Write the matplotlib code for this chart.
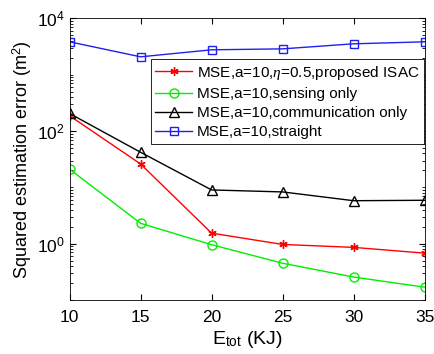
import matplotlib
matplotlib.use("Agg")
import matplotlib.pyplot as plt
import matplotlib.ticker as mticker
import numpy as np

plt.rcParams['font.family'] = ['Liberation Sans', 'DejaVu Sans']
plt.rcParams['mathtext.fontset'] = 'custom'
plt.rcParams['mathtext.rm'] = 'Liberation Sans'
plt.rcParams['mathtext.it'] = 'Liberation Serif:italic'

# x: total energy (KJ)
e_tot = [10, 15, 20, 25, 30, 35]

# squared estimation error (m^2)
mse_isac = [187, 26, 1.54, 0.97, 0.86, 0.68]
mse_sensing = [21, 2.3, 0.96, 0.45, 0.256, 0.169]
mse_comm = [205, 42, 9.0, 8.3, 5.8, 5.9]
mse_straight = [3840, 2080, 2770, 2880, 3540, 3840]

labels = [
    r"MSE,a=10,$\eta$=0.5,proposed ISAC",
    "MSE,a=10,sensing only",
    "MSE,a=10,communication only",
    "MSE,a=10,straight",
]

fig = plt.figure(figsize=(4.35, 3.54), dpi=100)
ax = fig.add_axes([0.160, 0.1525, 0.816, 0.7955])

ax.semilogy(e_tot, mse_isac, color='red', marker=(6, 2, 0), ms=6, lw=1.0,
            mew=1.0, label=labels[0])
ax.semilogy(e_tot, mse_sensing, color='#00ee00', marker='o', ms=6.5, mfc='none',
            lw=1.0, mew=1.0, label=labels[1])
ax.semilogy(e_tot, mse_comm, color='black', marker='^', ms=6.5, mfc='none',
            lw=1.0, mew=1.0, label=labels[2])
ax.semilogy(e_tot, mse_straight, color='#2020ee', marker='s', ms=5.5, mfc='none',
            lw=1.0, mew=1.0, label=labels[3])

ax.set_xlim(10, 35)
ax.set_ylim(1e-1, 1e4)
ax.set_xticks(e_tot)
ax.yaxis.set_major_locator(mticker.FixedLocator([1e0, 1e2, 1e4]))
ax.yaxis.set_major_formatter(mticker.LogFormatterMathtext())
ax.yaxis.set_minor_locator(mticker.LogLocator(base=10, subs=np.arange(1, 10), numticks=20))
ax.yaxis.set_minor_formatter(mticker.NullFormatter())

ax.tick_params(which='both', direction='in', top=True, right=True, labelsize=12.5)
ax.tick_params(axis='x', pad=7)
ax.tick_params(which='major', length=4)
ax.tick_params(which='minor', length=2)
for s in ax.spines.values():
    s.set_linewidth(0.6)

ax.set_xlabel(r"E$_{\mathrm{tot}}$ (KJ)", fontsize=14, labelpad=3)
ax.set_ylabel(r"Squared estimation error (m$^2$)", fontsize=13, labelpad=2)

leg = ax.legend(loc='upper right', bbox_to_anchor=(0.998, 0.855), fontsize=11,
                frameon=True, fancybox=False, edgecolor='black', framealpha=1,
                borderpad=0.3, labelspacing=0.33, handlelength=2.4,
                handletextpad=0.3, borderaxespad=0.0)
leg.get_frame().set_linewidth(0.6)

fig.savefig("out.png", dpi=100)
